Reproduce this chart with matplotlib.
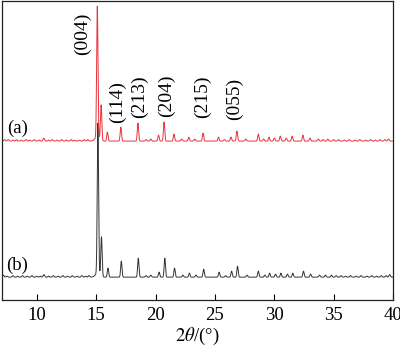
import numpy as np
import matplotlib.pyplot as plt

plt.rcParams['font.family'] = ['Liberation Serif', 'DejaVu Serif']
plt.rcParams['mathtext.fontset'] = 'stix'

# peak positions (2theta, deg) and heights above baseline (a.u.)
pos_a = [15.10, 15.42, 15.95, 17.08, 18.52, 20.25, 20.72, 21.55, 22.80, 24.00,
         25.30, 26.35, 26.85, 28.65, 29.55, 30.50, 31.50, 32.40, 33.00]
amp_a = [131, 35, 9, 14, 18, 6, 19, 7, 4, 8,
         4, 4, 10, 7, 4, 5, 5, 6, 3]
pos_b = [15.15, 15.45, 16.00, 17.12, 18.55, 20.30, 20.78, 21.60, 22.85, 24.05,
         25.35, 26.40, 26.90, 28.65, 29.60, 30.55, 31.55, 32.45, 33.05, 34.80]
amp_b = [150, 39, 9, 16, 19, 5, 19, 9, 4, 8,
         5, 6, 11, 6, 4, 4, 4, 6, 3, 2]

# small background bumps
bump_a = [7.3, 7.6, 8.0, 8.3, 8.7, 9.1, 9.4, 9.8, 10.2, 10.6, 11.0, 11.3, 11.7,
          12.1, 12.5, 12.9, 13.2, 13.6, 14.0, 14.3, 19.2, 19.6, 22.2, 23.3, 25.8,
          27.6, 29.1, 30.0, 31.0, 33.7, 34.1, 34.5, 35.0, 35.4, 35.9, 36.3, 36.8,
          37.2, 37.7, 38.1, 38.5, 38.9, 39.3, 39.6]
bamp_a = [1.5, 1.5, 1, 1.5, 1, 1.5, 1, 1.5, 1, 3, 1, 1.5, 1,
          1.5, 1, 1.5, 1, 1, 1.5, 1.5, 1.5, 2, 2, 2, 1.5,
          2, 2, 3, 3, 2, 1.5, 2, 1.5, 1.5, 1, 1.5, 1,
          1.5, 1, 1.5, 1, 1.5, 1.5, 2]
bump_b = [7.2, 7.5, 8.0, 8.4, 8.8, 9.2, 9.6, 10.0, 10.3, 10.6, 11.0, 11.4, 11.8,
          12.2, 12.6, 13.0, 13.4, 13.8, 14.1, 14.4, 19.2, 19.6, 22.3, 23.4, 25.9,
          27.7, 29.2, 30.1, 31.1, 33.8, 34.3, 35.2, 35.6, 36.0, 36.4, 36.9, 37.3,
          37.8, 38.2, 38.6, 39.0, 39.4, 39.7]
bamp_b = [2, 1, 1.5, 1, 1.5, 1, 1.5, 1, 1, 2.5, 1, 1.5, 1,
          1.5, 1, 1.5, 1, 1.5, 1, 1.5, 1.5, 2, 2, 2, 1.5,
          2, 2, 3, 3, 2, 2, 1.5, 1.5, 1, 1.5, 1, 1.5,
          1, 1.5, 1, 1.5, 1.5, 2.5]

offset_a = 159
offset_b = 23

labels = ['(004)', '(114)', '(213)', '(204)', '(215)', '(055)']
label_x = [13.89, 16.83, 18.68, 20.95, 23.97, 26.66]
label_y = [245, 177, 182, 183, 182, 180]

tt = np.arange(7.0, 40.0, 0.01)


def pattern(pos, amp, bpos, bamp, offset):
    y = np.full_like(tt, offset, dtype=float)
    for c, h in zip(pos, amp):
        y += h * np.exp(-0.5 * ((tt - c) / 0.055) ** 2)
    for c, h in zip(bpos, bamp):
        y += h * np.exp(-0.5 * ((tt - c) / 0.06) ** 2)
    # broad foot of the main reflection
    y += 4 * np.exp(-0.5 * ((tt - pos[0]) / 0.2) ** 2)
    return y


fig = plt.figure(figsize=(4.0, 3.47), dpi=100)
ax = fig.add_axes([0.005, 0.135, 0.978, 0.862])

ax.plot(tt, pattern(pos_b, amp_b, bump_b, bamp_b, offset_b), color='#333333', lw=0.7)
ax.plot(tt, pattern(pos_a, amp_a, bump_a, bamp_a, offset_a), color='#e8333a', lw=0.7)

for s, x, y in zip(labels, label_x, label_y):
    ax.text(x, y, s, rotation=90, ha='center', va='bottom', fontsize=14)

ax.text(8.35, 172, '(a)', ha='center', va='center', fontsize=13.5)
ax.text(8.35, 35, '(b)', ha='center', va='center', fontsize=13.5)

ax.set_xlim(7.08, 40)
ax.set_ylim(0, 299)
ax.set_xticks([10, 15, 20, 25, 30, 35, 40])
ax.set_yticks([])
ax.tick_params(axis='x', direction='in', length=4.5, labelsize=13.5, pad=5)
ax.set_xlabel(r'$\mathit{2\theta}$/(°)', fontsize=13.5, labelpad=1)
for sp in ax.spines.values():
    sp.set_linewidth(0.9)
    sp.set_color('#222222')

fig.savefig('out.png', dpi=100)
